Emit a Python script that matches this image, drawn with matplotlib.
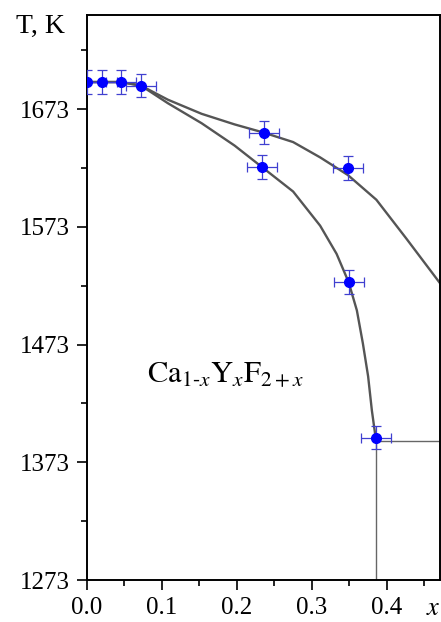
import matplotlib
matplotlib.use("Agg")
import matplotlib.pyplot as plt
from matplotlib.ticker import MultipleLocator, FixedLocator

plt.rcParams["font.family"] = ["Liberation Serif", "DejaVu Serif"]
plt.rcParams["mathtext.fontset"] = "stix"

# -------------------------------------------------------------
# Data
# -------------------------------------------------------------
# experimental points
x_exp = [0.0, 0.02, 0.045, 0.072, 0.236, 0.234, 0.348, 0.349, 0.385]
T_exp = [1696, 1696, 1696, 1693, 1653, 1624, 1623, 1526, 1394]
x_err = 0.02
T_err = 10

# upper curve (liquidus)
x_liq = [0.0, 0.045, 0.072, 0.108, 0.153, 0.197, 0.236, 0.275,
         0.311, 0.348, 0.386, 0.426, 0.471]
T_liq = [1696, 1696, 1693, 1681, 1669, 1660, 1653, 1645,
         1632, 1617, 1596, 1563, 1525]

# lower curve (solidus)
x_sol = [0.0, 0.045, 0.072, 0.108, 0.153, 0.197, 0.233, 0.275,
         0.311, 0.333, 0.349, 0.360, 0.368, 0.375, 0.380, 0.385]
T_sol = [1696, 1696, 1693, 1678, 1661, 1642, 1624, 1603,
         1574, 1550, 1526, 1502, 1474, 1446, 1417, 1394]

# solvus lines
x_horiz = [0.385, 0.471]
T_horiz = [1391, 1391]
x_vert = [0.386, 0.386]
T_vert = [1394, 1273]

y_ticks = [1273, 1373, 1473, 1573, 1673]
y_minor = [1323, 1423, 1523, 1623, 1723]

# -------------------------------------------------------------
# Plot
# -------------------------------------------------------------
fig = plt.figure(figsize=(4.41, 6.22), dpi=100)
ax = fig.add_axes([0.197, 0.0675, 0.801, 0.9085])

ax.plot(x_liq, T_liq, color="#555555", lw=1.7, zorder=2,
        solid_joinstyle="round")
ax.plot(x_sol, T_sol, color="#555555", lw=1.7, zorder=2,
        solid_joinstyle="round")
ax.plot(x_horiz, T_horiz, color="#666666", lw=1.0, zorder=2)
ax.plot(x_vert, T_vert, color="#666666", lw=1.0, zorder=2)

ax.errorbar(
    x_exp, T_exp, xerr=x_err, yerr=T_err,
    fmt="o", color="#0000ff", ecolor="#4040d0",
    markersize=7, elinewidth=0.9, capsize=3.5, capthick=0.9, zorder=3,
)

ax.set_xlim(0.0, 0.471)
ax.set_ylim(1273, 1753)

ax.xaxis.set_major_locator(MultipleLocator(0.1))
ax.xaxis.set_minor_locator(MultipleLocator(0.05))
ax.yaxis.set_major_locator(FixedLocator(y_ticks))
ax.yaxis.set_minor_locator(FixedLocator(y_minor))
ax.xaxis.set_major_formatter(plt.FuncFormatter(lambda v, p: f"{v:.1f}"))

ax.tick_params(which="major", direction="out", length=7, width=1.2,
               labelsize=18, pad=5)
ax.tick_params(which="minor", direction="out", length=4, width=1.2)
ax.tick_params(top=False, right=False, which="both")
for s in ax.spines.values():
    s.set_linewidth(1.4)

fig.text(0.036, 0.947, "T, K", fontsize=20, ha="left", va="baseline")
fig.text(0.965, 0.003, "$x$", fontsize=19, ha="left", va="bottom")

ax.text(0.08, 1440, r"$\mathrm{Ca}_{1\text{-}x}\mathrm{Y}_{x}\mathrm{F}_{2+x}$",
        fontsize=22, ha="left", va="baseline")

fig.savefig("out.png", dpi=100)
